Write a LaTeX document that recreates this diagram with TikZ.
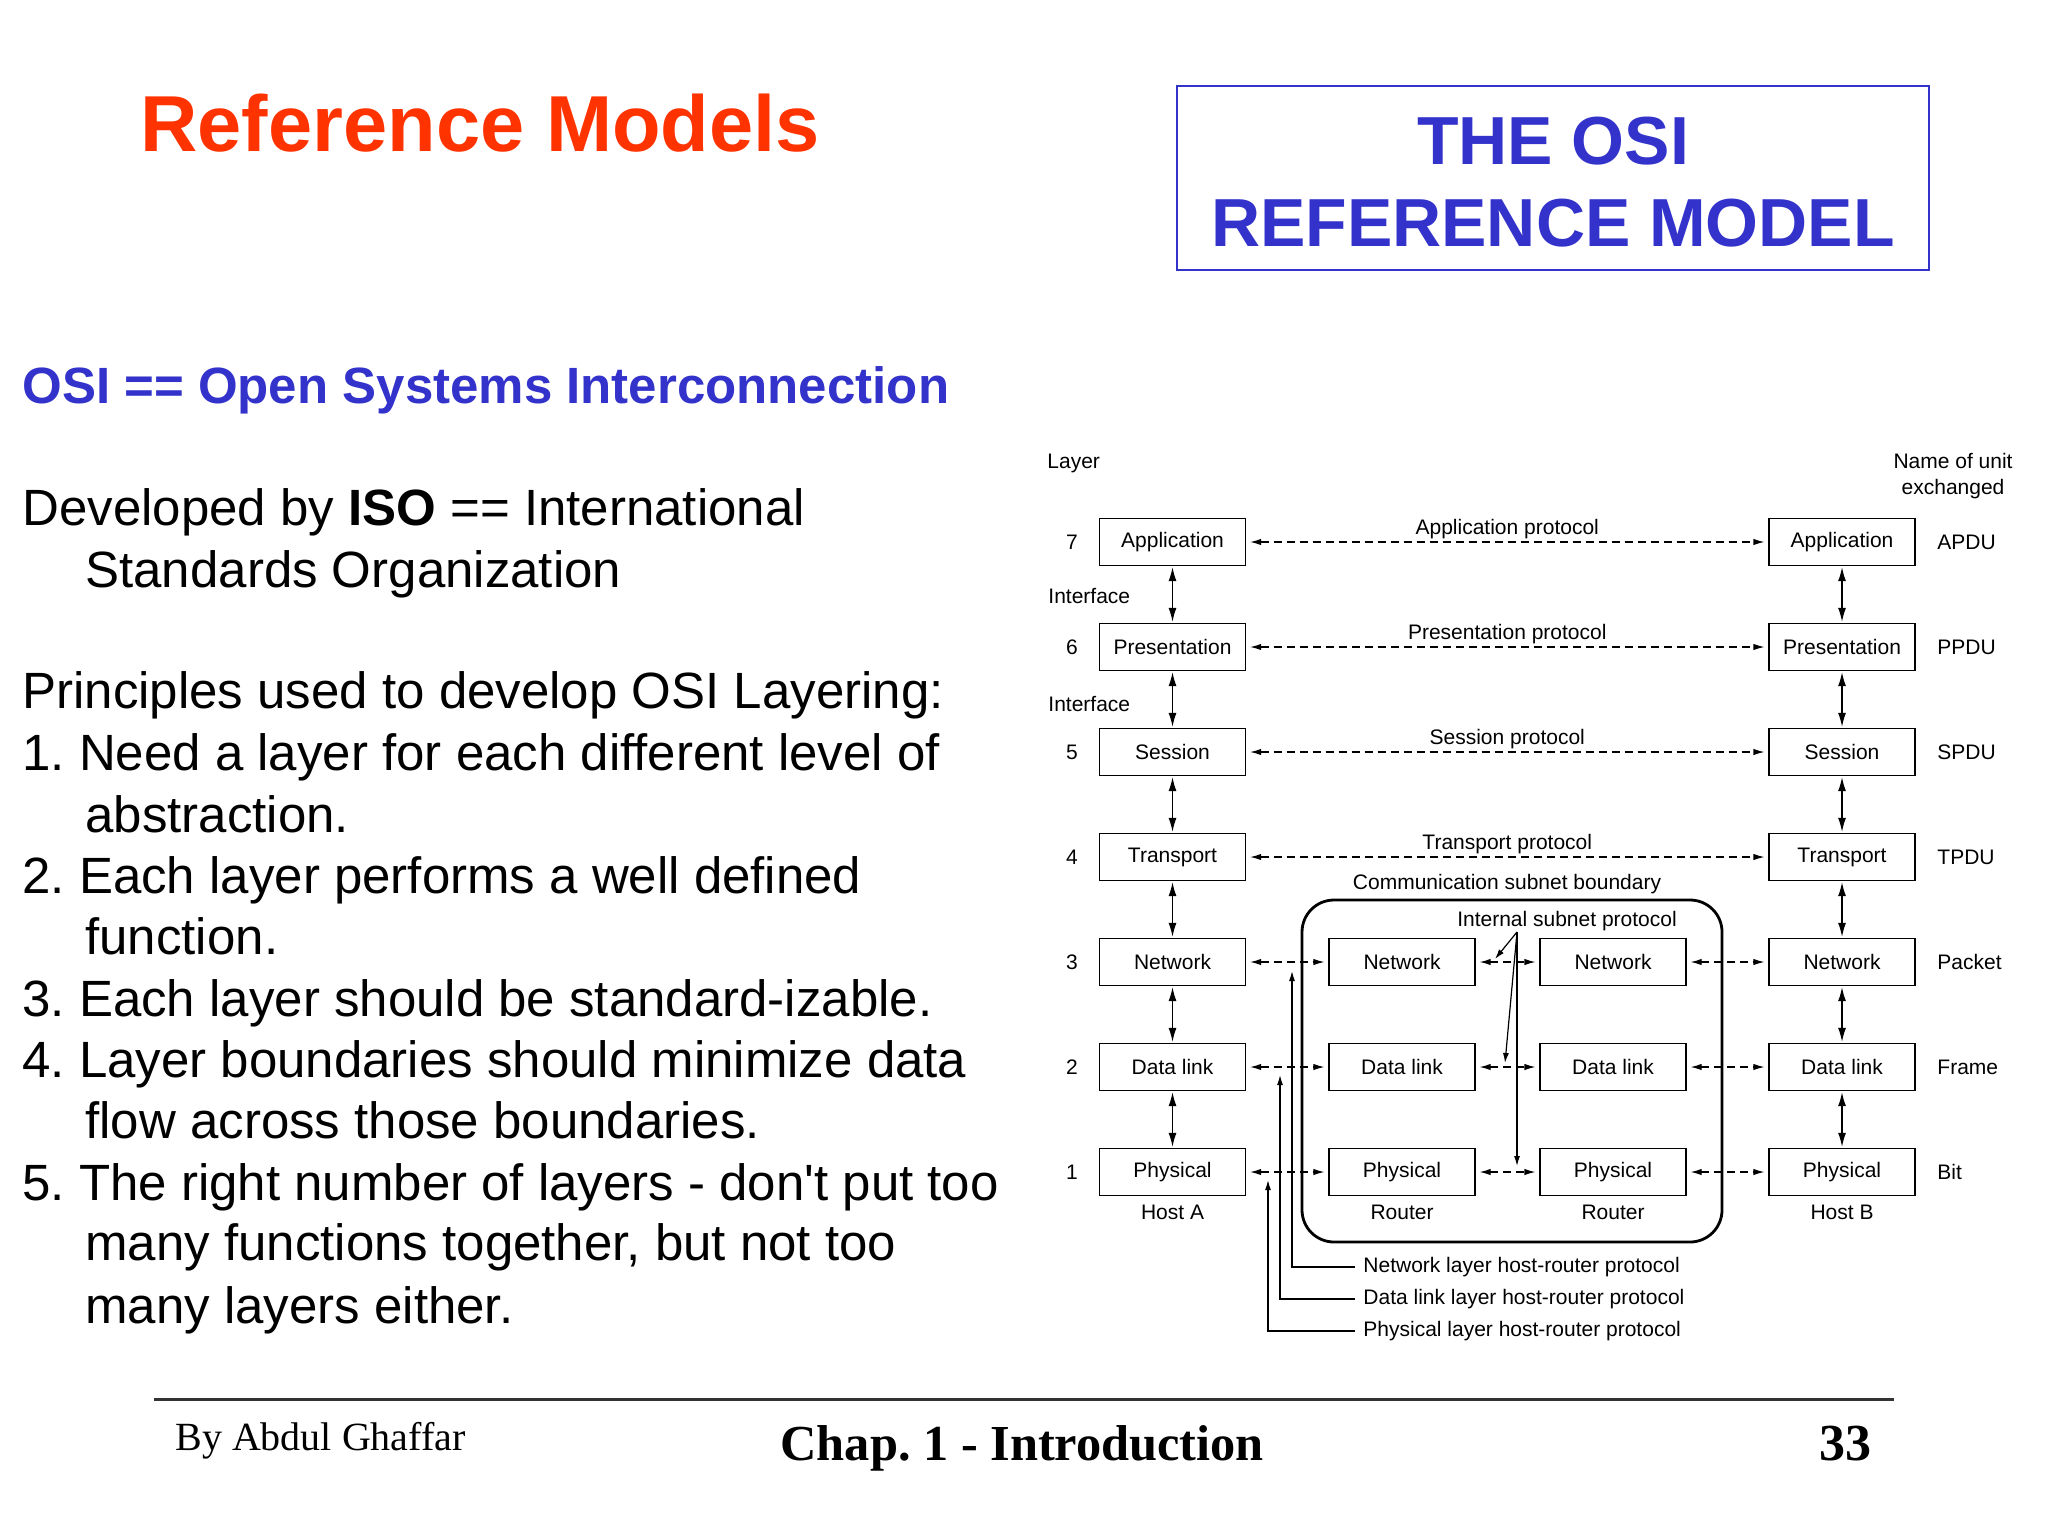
\documentclass[tikz,border=0pt]{standalone}
\usepackage{fontspec}
\setmainfont{Liberation Sans}
\newfontfamily\footfont{Liberation Serif}
\usetikzlibrary{arrows.meta}
\definecolor{titlered}{HTML}{FF3300}
\definecolor{osiblue}{HTML}{3333CC}
\frenchspacing
\begin{document}
\begin{tikzpicture}[x=0.5pt,y=-0.5pt,
  layerbox/.style={draw, line width=0.6pt, minimum width=73pt, minimum height=23.5pt, inner sep=0pt, font=\fontsize{10.5}{12}\selectfont},
  small/.style={font=\fontsize{10.5}{13}\selectfont, inner sep=0pt},
  plabel/.style={small, anchor=base, yshift=4pt},
  body/.style={font=\fontsize{25.5}{30}\selectfont, anchor=base west, inner sep=0pt},
  vlink/.style={line width=0.7pt, {Latex[length=7pt,width=4pt]}-{Latex[length=7pt,width=4pt]}, shorten <=0.5pt, shorten >=0.5pt},
  proto/.style={line width=0.6pt, dash pattern=on 4pt off 2.5pt, {Latex[length=5.5pt,width=3.2pt]}-{Latex[length=5.5pt,width=3.2pt]}, shorten <=2pt, shorten >=2pt},
  pointer/.style={line width=0.6pt, -{Latex[length=5pt,width=3pt]}},
  hrlabel/.style={font=\fontsize{10.5}{13}\selectfont, anchor=west, inner ysep=0pt, inner xsep=4pt}
]
\fill[white] (0,0) rectangle (2048,1536);
\useasboundingbox (0,0) rectangle (2048,1536);

% ---- Slide titles ----
\node[anchor=base west, inner sep=0pt, text=titlered, font=\fontsize{39.7}{46}\selectfont\bfseries] (title) at (140,151) {Reference Models};
\draw[osiblue, line width=1pt] (1177,86) rectangle (1929,270);
\node[anchor=base, inner sep=0pt, text=osiblue, font=\fontsize{34}{40}\selectfont\bfseries] (osi1) at (1553,164) {THE OSI};
\node[anchor=base, inner sep=0pt, text=osiblue, font=\fontsize{34}{40}\selectfont\bfseries] (osi2) at (1553,246) {REFERENCE MODEL};
\node[anchor=base west, inner sep=0pt, text=osiblue, font=\fontsize{25.5}{30}\selectfont\bfseries] (osiline) at (22,403) {OSI == Open Systems Interconnection};

% ---- Body text ----
\node[body] (b1) at (22,525) {Developed by \textbf{ISO} == International};
\node[body] (b2) at (85,587) {Standards Organization};
\node[body] (b3) at (22,708) {Principles used to develop OSI Layering:};
\node[body] (b4) at (22,770) {1. Need a layer for each different level of};
\node[body] (b5) at (85,832) {abstraction.};
\node[body] (b6) at (22,893) {2. Each layer performs a well defined};
\node[body] (b7) at (85,954) {function.};
\node[body] (b8) at (22,1016) {3. Each layer should be standard-izable.};
\node[body] (b9) at (22,1077) {4. Layer boundaries should minimize data};
\node[body] (b10) at (85,1138) {flow across those boundaries.};
\node[body] (b11) at (22,1200) {5. The right number of layers - don\textquotesingle t put too};
\node[body] (b12) at (85,1260) {many functions together, but not too};
\node[body] (b13) at (85,1323) {many layers either.};

% ---- Diagram headers ----
\node[small, anchor=west] (layerhd) at (1047,463) {Layer};
\node[small, align=center] (unithd) at (1953,476) {Name of unit\\exchanged};
\node[small, anchor=west] (if1) at (1048,596) {Interface};
\node[small, anchor=west] (if2) at (1048,704) {Interface};

% ---- Subnet boundary ----
\draw[line width=1.4pt, rounded corners=16pt] (1302,900) rectangle (1722,1242);
\node[small, anchor=base] (csb) at (1507,889) {Communication subnet boundary};
\node[small, anchor=base] (isp) at (1567,926) {Internal subnet protocol};

% ---- Layer boxes ----
\foreach \n/\y/\lab/\unit in {7/542/Application/APDU, 6/647/Presentation/PPDU, 5/752/Session/SPDU, 4/857/Transport/TPDU, 3/962/Network/Packet, 2/1067/Data link/Frame, 1/1172/Physical/Bit}{
  \node[small] (num\n) at (1072,\y) {\n};
  \node[layerbox] (A\n) at (1172.5,\y) {\lab};
  \node[layerbox] (B\n) at (1842,\y) {\lab};
  \node[small, anchor=west] (U\n) at (1937,\y) {\unit};
}
\node[layerbox] (R1n) at (1402,962) {Network};
\node[layerbox] (R1d) at (1402,1067) {Data link};
\node[layerbox] (R1p) at (1402,1172) {Physical};
\node[layerbox] (R2n) at (1613,962) {Network};
\node[layerbox] (R2d) at (1613,1067) {Data link};
\node[layerbox] (R2p) at (1613,1172) {Physical};

\node[small, anchor=north, yshift=-4.5pt] (hostA) at (A1.south) {Host A};
\node[small, anchor=north, yshift=-4.5pt] (rtr1) at (R1p.south) {Router};
\node[small, anchor=north, yshift=-4.5pt] (rtr2) at (R2p.south) {Router};
\node[small, anchor=north, yshift=-4.5pt] (hostB) at (B1.south) {Host B};

% ---- Interfaces (vertical) ----
\foreach \a/\b in {7/6,6/5,5/4,4/3,3/2,2/1}{
  \draw[vlink] (A\a.south) -- (A\b.north);
  \draw[vlink] (B\a.south) -- (B\b.north);
}

% ---- Peer protocols ----
\draw[proto] (A7.east) -- node[plabel] (pl7) {Application protocol} (B7.west);
\draw[proto] (A6.east) -- node[plabel] (pl6) {Presentation protocol} (B6.west);
\draw[proto] (A5.east) -- node[plabel] (pl5) {Session protocol} (B5.west);
\draw[proto] (A4.east) -- node[plabel] (pl4) {Transport protocol} (B4.west);

\draw[proto] (A3.east) -- (R1n.west);
\draw[proto] (A2.east) -- (R1d.west);
\draw[proto] (A1.east) -- (R1p.west);
\draw[proto] (R1n.east) -- (R2n.west);
\draw[proto] (R1d.east) -- (R2d.west);
\draw[proto] (R1p.east) -- (R2p.west);
\draw[proto] (R2n.east) -- (B3.west);
\draw[proto] (R2d.east) -- (B2.west);
\draw[proto] (R2p.east) -- (B1.west);

% ---- Internal subnet protocol pointers ----
\coordinate (ispsrc) at (1517,932);
\coordinate (ispN) at (1495,959);
\coordinate (ispD) at (1505,1063);
\coordinate (ispP) at (1517,1166);
\draw[pointer] (ispsrc) -- (ispN);
\draw[pointer] (ispsrc) -- (ispD);
\draw[pointer] (ispsrc) -- (ispP);

% ---- Host-router protocol labels ----
\node[hrlabel] (hrN) at (1355,1267) {Network layer host-router protocol};
\node[hrlabel] (hrD) at (1355,1299) {Data link layer host-router protocol};
\node[hrlabel] (hrP) at (1355,1331) {Physical layer host-router protocol};
\coordinate (tipN) at (1292,971);
\coordinate (tipD) at (1280,1075);
\coordinate (tipP) at (1268,1180);
\draw[pointer] (hrN.west) -| (tipN);
\draw[pointer] (hrD.west) -| (tipD);
\draw[pointer] (hrP.west) -| (tipP);

% ---- Footer ----
\draw[black!80, line width=1.5pt] (154,1399) -- (1894,1399);
\node[anchor=base west, inner sep=0pt, font=\footfont\fontsize{20}{24}\selectfont] (author) at (175,1450) {By Abdul Ghaffar};
\node[anchor=base west, inner sep=0pt, font=\footfont\bfseries\fontsize{25.2}{30}\selectfont] (chap) at (780,1460) {Chap. 1 - Introduction};
\node[anchor=base east, inner sep=0pt, font=\footfont\bfseries\fontsize{26}{30}\selectfont] (page) at (1872,1460) {33};
\end{tikzpicture}
\end{document}
